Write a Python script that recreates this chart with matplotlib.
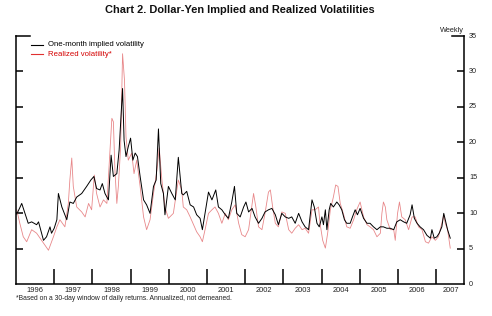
import matplotlib
matplotlib.use("Agg")
import matplotlib.pyplot as plt
from matplotlib.ticker import FixedLocator, NullFormatter, FixedFormatter

plt.rcParams['font.family'] = ['Liberation Sans', 'DejaVu Sans']

title = "Chart 2. Dollar-Yen Implied and Realized Volatilities"
footnote = "*Based on a 30-day window of daily returns. Annualized, not demeaned."
series_names = ["One-month implied volatility", "Realized volatility*"]

implied_dates = [
    1996.02, 1996.10, 1996.15, 1996.24, 1996.32, 1996.41, 1996.54, 1996.59, 1996.67, 1996.72,
    1996.80, 1996.89, 1996.93, 1997.00, 1997.07, 1997.11, 1997.20, 1997.33, 1997.41, 1997.50,
    1997.59, 1997.72, 1997.85, 1997.96, 1998.04, 1998.11, 1998.20, 1998.26, 1998.33, 1998.42,
    1998.49, 1998.55, 1998.64, 1998.70, 1998.79, 1998.83, 1998.88, 1998.94, 1999.00, 1999.06,
    1999.12, 1999.18, 1999.25, 1999.34, 1999.42, 1999.51, 1999.60, 1999.67, 1999.73, 1999.79,
    1999.86, 1999.90, 1999.99, 2000.08, 2000.17, 2000.25, 2000.34,
    2000.38, 2000.47, 2000.56, 2000.65, 2000.73, 2000.82, 2000.88, 2000.95, 2001.04, 2001.13,
    2001.23, 2001.30, 2001.39, 2001.48, 2001.56, 2001.65, 2001.72, 2001.78, 2001.87, 2001.96,
    2002.02, 2002.09, 2002.18, 2002.26, 2002.35, 2002.44, 2002.52, 2002.61, 2002.70, 2002.79,
    2002.87, 2002.96, 2003.05, 2003.14, 2003.22, 2003.31, 2003.40, 2003.49, 2003.57, 2003.66,
    2003.75, 2003.81, 2003.88,
    2003.94, 2004.01, 2004.05, 2004.10, 2004.14, 2004.20, 2004.24, 2004.31, 2004.40, 2004.46,
    2004.53, 2004.60, 2004.66, 2004.75, 2004.81, 2004.88, 2004.94, 2005.01, 2005.10, 2005.19,
    2005.27, 2005.36, 2005.45, 2005.54, 2005.62, 2005.71, 2005.80, 2005.89, 2005.97, 2006.06,
    2006.15, 2006.23, 2006.32, 2006.37, 2006.43, 2006.50, 2006.58, 2006.67, 2006.76, 2006.85,
    2006.89, 2006.95, 2007.02, 2007.08, 2007.15, 2007.20, 2007.24, 2007.30, 2007.37,
]
implied_values = [
    9.9, 10.8, 11.4, 9.9, 8.6, 8.8, 8.4, 8.8, 7.2, 6.2,
    6.7, 8.1, 7.2, 7.9, 9.1, 12.8, 10.9, 9.1, 11.6, 11.4,
    12.3, 12.8, 13.8, 14.7, 15.2, 13.5, 13.3, 14.2, 12.8, 11.9,
    18.2, 15.2, 15.6, 18.9, 27.6, 20.3, 18.0, 19.4, 20.6, 17.5,
    18.5, 18.0, 15.2, 11.9, 11.2, 10.0, 13.8, 14.7, 21.9, 14.2,
    12.8, 9.8, 13.8, 12.8, 11.9, 17.9, 12.8,
    12.6, 13.1, 11.2, 10.9, 9.8, 9.3, 7.7, 10.0, 13.0, 11.9,
    13.3, 10.9, 10.5, 9.8, 9.3, 11.6, 13.8, 10.0, 9.5, 10.9,
    11.6, 10.2, 10.7, 9.5, 8.6, 9.3, 10.2, 10.5, 10.7, 9.8,
    8.4, 10.0, 9.5, 9.3, 9.5, 8.6, 10.0, 8.8, 8.1, 7.7,
    11.9, 10.9, 8.6,
    8.1, 9.5, 8.4, 10.5, 7.7, 10.5, 11.4, 10.9, 11.6, 11.2,
    10.5, 9.1, 8.6, 8.6, 9.5, 10.5, 9.8, 10.7, 9.3, 8.6,
    8.6, 8.1, 7.7, 8.1, 8.1, 7.9, 7.9, 7.7, 8.8, 9.1,
    8.8, 8.6, 9.8, 11.2, 9.3, 8.6, 8.1, 7.7, 6.9, 6.5,
    7.7, 6.5, 6.7, 7.2, 8.1, 10.0, 9.1, 7.7, 6.5,
]

realized_dates = [
    1996.02, 1996.10, 1996.19, 1996.28, 1996.41, 1996.54, 1996.67, 1996.85, 1996.98, 1997.07,
    1997.15, 1997.28, 1997.37, 1997.41, 1997.46, 1997.50, 1997.59, 1997.72, 1997.81, 1997.90,
    1997.98, 1998.05, 1998.11, 1998.20, 1998.29, 1998.38, 1998.46, 1998.51, 1998.55, 1998.59,
    1998.64, 1998.68, 1998.74, 1998.79, 1998.84, 1998.88, 1998.94, 1999.03, 1999.09, 1999.16,
    1999.25, 1999.34, 1999.42, 1999.51, 1999.60, 1999.69, 1999.75, 1999.82, 1999.90, 1999.99,
    2000.12, 2000.25, 2000.34,
    2000.38, 2000.47, 2000.56, 2000.65, 2000.73, 2000.82, 2000.88, 2000.95, 2001.04, 2001.13,
    2001.21, 2001.30, 2001.39, 2001.48, 2001.56, 2001.65, 2001.74, 2001.83, 2001.91, 2002.00,
    2002.09, 2002.16, 2002.22, 2002.28, 2002.35, 2002.44, 2002.52, 2002.61, 2002.66, 2002.72,
    2002.79, 2002.87, 2002.96, 2003.05, 2003.14, 2003.22, 2003.31, 2003.40, 2003.49, 2003.57,
    2003.66, 2003.75, 2003.83, 2003.92,
    2003.96, 2004.03, 2004.10, 2004.16, 2004.23, 2004.31, 2004.37, 2004.43, 2004.49, 2004.58,
    2004.66, 2004.75, 2004.84, 2004.92, 2005.01, 2005.10, 2005.19, 2005.27, 2005.36, 2005.45,
    2005.54, 2005.58, 2005.62, 2005.67, 2005.71, 2005.80, 2005.89, 2005.93, 2005.99, 2006.04,
    2006.10, 2006.19, 2006.28, 2006.37, 2006.45, 2006.54, 2006.63, 2006.72, 2006.80, 2006.89,
    2006.98, 2007.06, 2007.15, 2007.20, 2007.24, 2007.30, 2007.37,
]
realized_values = [
    10.5, 8.6, 6.7, 6.0, 7.7, 7.2, 6.2, 4.8, 6.7, 8.1,
    9.1, 8.1, 11.4, 14.7, 17.8, 13.8, 10.9, 10.2, 9.5, 11.4,
    10.5, 15.4, 12.8, 10.9, 11.9, 11.4, 18.9, 23.4, 22.9, 16.1,
    11.4, 13.8, 19.4, 32.5, 28.8, 20.8, 17.5, 18.5, 15.6, 17.5,
    13.8, 9.5, 7.7, 9.1, 12.8, 16.1, 19.2, 14.7, 10.9, 9.3,
    10.0, 14.7, 13.3,
    10.9, 10.5, 9.5, 8.4, 7.4, 6.7, 6.0, 7.7, 10.0, 10.5,
    10.9, 10.0, 8.6, 10.0, 9.1, 10.5, 11.2, 8.6, 7.0, 6.7,
    7.7, 10.5, 12.8, 10.9, 8.1, 7.7, 10.0, 13.0, 13.3, 10.9,
    8.6, 8.1, 10.2, 10.0, 7.7, 7.2, 7.9, 8.4, 7.7, 7.9,
    7.2, 10.5, 10.5, 10.9,
    8.6, 6.2, 5.1, 7.2, 10.5, 12.3, 14.0, 13.8, 11.4, 9.8,
    8.1, 7.9, 9.1, 10.5, 11.6, 9.5, 8.4, 8.1, 7.7, 6.7,
    7.2, 10.0, 11.6, 10.9, 9.1, 7.7, 7.7, 6.2, 10.0, 11.6,
    9.5, 9.1, 7.7, 9.5, 9.5, 8.1, 7.7, 6.0, 5.8, 6.7,
    6.2, 6.7, 8.6, 9.8, 8.6, 7.7, 5.1,
]

year_labels = ["1996", "1997", "1998", "1999", "2000", "2001",
               "2002", "2003", "2004", "2005", "2006", "2007"]
y_ticks = [0, 5, 10, 15, 20, 25, 30, 35]

W, H = 492, 316
fig = plt.figure(figsize=(W / 100, H / 100), dpi=100)
ax = fig.add_axes([16 / W, 31.7 / H, 448 / W, 248.3 / H])

ax.plot(realized_dates, realized_values, color="#e8888a", lw=0.6, zorder=2)
ax.plot(implied_dates, implied_values, color="black", lw=0.7, zorder=3)

x0 = int(year_labels[0])
ax.set_xlim(x0, x0 + 11.73)
ax.set_ylim(y_ticks[0], y_ticks[-1])

# spines
for s in ("left", "right", "bottom"):
    ax.spines[s].set_linewidth(1.1)
ax.spines["top"].set_visible(False)
# top stubs
ax.plot([0, 14 / 448], [1, 1], transform=ax.transAxes, color="black", lw=1.1, clip_on=False)
ax.plot([1 - 12 / 448, 1], [1, 1], transform=ax.transAxes, color="black", lw=1.1, clip_on=False)

# y ticks
ax.yaxis.set_major_locator(FixedLocator(y_ticks[1:-1]))
ax.tick_params(axis="y", which="major", direction="in", length=5, width=1.1,
               left=True, right=True, labelleft=False, labelright=False)
for v in y_ticks:
    ax.text(1.0 + 5 / 448, v, str(v), transform=ax.get_yaxis_transform(), ha="left",
            va="center", fontsize=5.2, color="#222222")

# x ticks
years = [int(y) for y in year_labels]
ax.xaxis.set_major_locator(FixedLocator(years[1:]))
ax.xaxis.set_major_formatter(NullFormatter())
ax.tick_params(axis="x", which="major", direction="in", length=10.5, width=1.1)
label_pos = [y + 0.5 for y in years[:-1]] + [years[-1] + 0.4]
ax.xaxis.set_minor_locator(FixedLocator(label_pos))
ax.xaxis.set_minor_formatter(FixedFormatter(year_labels))
ax.tick_params(axis="x", which="minor", length=0, labelsize=5.4, pad=2, labelcolor="#222222")

ax.text(1.0, 1.0 + 1.5 / 248.3, "Weekly", transform=ax.transAxes, ha="right", va="bottom",
        fontsize=5.3, color="#222222")

fig.text(240 / W, 1 - 10 / H, title, ha="center", va="center", fontsize=7.9,
         fontweight="bold", color="#111111")
fig.text(16 / W, 1 - 298.5 / H, footnote, ha="left", va="center", fontsize=4.9,
         color="#222222")

# legend
hx0, hx1, tx = (30.7 - 16) / 448, (43.3 - 16) / 448, (47.7 - 16) / 448
rows = [(45, "black", "black"), (54, "#e03030", "#d40000")]
for name, (py, lc, tc) in zip(series_names, rows):
    yy = (284.3 - py) / 248.3
    ax.plot([hx0, hx1], [yy, yy], transform=ax.transAxes, color=lc, lw=0.8, clip_on=False)
    ax.text(tx, yy, name, transform=ax.transAxes, ha="left", va="center",
            fontsize=5.6, color=tc)

fig.savefig("out.png", dpi=100)
